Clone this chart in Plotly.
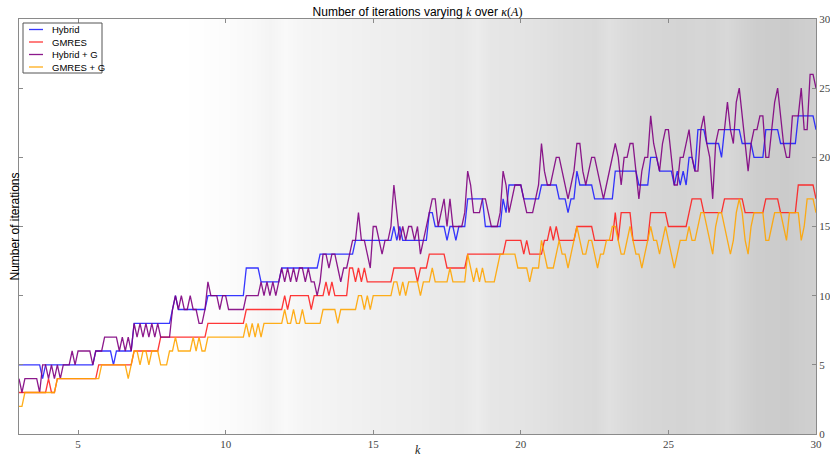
import plotly.graph_objects as go

# ---- data -------------------------------------------------------------
k_values = [round(3 + 0.1 * i, 1) for i in range(271)]

hybrid = [
    5,5,5,5,5,5,5,5,4,5,
    5,5,5,5,5,5,5,5,5,5,
    5,5,5,5,5,5,6,6,6,6,
    6,6,5,6,6,6,6,6,6,8,
    8,8,8,8,8,8,8,8,8,8,
    8,8,9,10,9,9,9,9,9,9,
    9,9,9,9,10,10,10,10,10,10,
    10,10,10,10,10,10,10,12,12,12,
    12,12,11,11,11,11,11,11,11,12,
    12,12,12,12,12,12,12,12,12,12,
    12,12,13,13,13,13,13,13,13,13,
    13,13,13,13,14,14,14,14,14,14,
    14,14,14,14,14,14,14,15,14,15,
    14,14,14,14,14,14,14,14,14,16,
    16,15,15,15,15,14,15,15,14,15,
    15,15,17,17,17,17,17,17,15,15,
    15,15,15,15,17,16,18,18,18,18,
    18,17,17,17,17,17,17,18,18,18,
    18,18,18,17,17,17,16,17,17,19,
    18,18,18,18,18,17,17,17,17,17,
    17,17,19,19,19,19,19,19,19,19,
    18,18,18,18,20,20,20,19,19,19,
    19,19,18,19,18,19,18,20,20,19,
    22,22,22,21,21,21,21,21,20,22,
    22,22,22,22,22,21,21,21,21,20,
    20,20,20,22,22,22,22,22,21,21,
    21,21,21,21,23,23,23,23,23,23,
    22,
]

gmres = [
    3,3,3,3,3,3,3,3,3,3,
    4,3,3,4,4,4,4,4,4,4,
    4,4,4,4,4,4,4,5,5,5,
    5,5,5,5,5,5,5,5,5,6,
    6,6,6,6,6,6,6,6,7,7,
    7,7,7,7,7,7,7,7,7,7,
    7,7,7,7,8,8,8,8,8,8,
    8,8,8,8,8,8,8,9,9,9,
    9,9,9,9,9,9,9,9,9,9,
    10,9,10,10,10,10,10,10,10,9,
    10,10,10,10,11,10,11,10,10,10,
    10,10,12,12,11,12,11,12,11,11,
    11,11,11,11,11,11,11,12,12,12,
    12,12,12,12,12,11,12,12,12,13,
    13,13,13,13,13,12,12,12,12,12,
    12,12,13,13,13,13,13,13,13,13,
    13,13,13,13,13,14,14,14,14,14,
    14,13,14,13,13,13,13,13,14,14,
    15,14,15,14,14,14,14,14,14,15,
    15,15,15,15,15,14,14,14,14,14,
    14,14,16,14,16,16,16,16,14,14,
    14,14,14,14,16,16,16,16,16,16,
    15,15,15,15,15,15,15,16,17,17,
    17,17,16,16,16,16,16,16,16,17,
    17,17,17,17,17,17,16,16,16,16,
    16,16,16,17,17,17,17,17,16,16,
    16,16,16,16,18,18,18,18,18,18,
    17,
]

hybrid_g = [
    4,3,4,4,4,4,4,3,5,5,
    4,5,4,5,4,5,5,5,6,5,
    6,6,6,6,6,5,6,6,6,7,
    7,7,7,7,6,7,6,7,6,8,
    7,8,7,8,7,8,7,8,7,7,
    7,7,9,10,9,10,9,9,10,9,
    9,8,8,9,11,10,10,10,9,10,
    10,9,9,9,9,9,9,10,10,10,
    10,10,11,10,11,10,11,10,11,12,
    11,12,11,12,11,12,12,11,12,11,
    11,10,11,13,13,12,13,13,12,11,
    12,12,13,14,14,16,14,14,13,12,
    15,15,14,13,14,14,15,18,16,14,
    15,14,15,15,14,15,13,14,15,16,
    17,17,15,16,17,15,17,15,15,15,
    15,16,19,18,16,16,16,17,17,16,
    15,15,15,16,19,18,16,17,18,18,
    18,17,16,16,16,17,18,21,19,18,
    18,19,20,20,19,18,17,18,19,21,
    21,19,18,19,20,20,19,18,17,18,
    19,20,21,20,18,20,20,21,21,19,
    17,19,20,20,23,21,20,19,21,22,
    22,20,18,18,20,20,21,22,20,19,
    19,22,23,21,20,17,21,22,22,22,
    24,22,21,24,25,23,21,19,21,22,
    22,23,23,20,20,22,24,25,23,21,
    20,20,23,23,23,25,22,22,26,26,
    25,
]

gmres_g = [
    2,2,3,3,3,3,3,3,3,3,
    3,3,3,4,4,4,4,4,4,4,
    4,4,4,4,4,4,4,4,5,5,
    5,5,5,5,5,5,5,4,5,6,
    6,5,6,6,5,6,6,6,5,5,
    5,6,6,7,6,6,6,6,6,7,
    6,7,6,6,7,7,7,7,7,7,
    7,7,7,7,7,7,7,8,7,8,
    7,8,7,8,8,8,8,8,8,8,
    9,8,8,9,8,8,9,8,8,8,
    8,8,8,9,9,9,9,9,8,9,
    9,9,9,9,9,10,10,9,10,9,
    10,10,10,10,10,10,10,11,11,10,
    11,10,11,11,11,11,10,11,11,11,
    12,11,11,11,11,11,12,11,11,11,
    11,11,13,12,11,12,11,12,11,11,
    11,11,12,13,13,13,13,13,13,12,
    12,12,12,11,12,12,12,14,13,12,
    12,12,13,14,13,13,12,13,14,15,
    14,13,13,14,14,13,12,13,13,14,
    14,15,15,14,13,13,14,15,14,13,
    13,12,13,14,15,14,14,13,14,15,
    14,13,12,13,14,14,14,15,14,14,
    15,16,16,15,14,13,15,16,16,15,
    14,13,14,16,17,16,14,13,15,16,
    16,16,16,14,14,15,16,16,16,15,
    14,16,16,16,16,14,15,17,17,17,
    16,
]

# background shading (grey level 0-255) sampled every 0.5 in k
bg_k = [round(3 + 0.5 * i, 1) for i in range(55)]
bg_grey = [
    255,255,255,255,255,255,255,255,255,255,255,255,
    254,253,252,250,248,244,249,246,244,243,
    242,241,239,238,237,236,234,233,232,236,
    230,229,228,226,224,221,220,218,224,219,
    216,214,213,212,214,213,216,210,205,204,
    203,206,208,
]

series_names = ["Hybrid", "GMRES", "Hybrid + G", "GMRES + G"]
series_colors = ["rgba(20,20,255,0.85)", "rgba(255,20,20,0.85)",
                 "rgba(128,0,128,0.9)", "rgba(255,165,0,0.9)"]
x_ticks = [5, 10, 15, 20, 25, 30]
y_ticks = [0, 5, 10, 15, 20, 25, 30]

# ---- figure -----------------------------------------------------------
fig = go.Figure()

fig.add_trace(go.Heatmap(
    x=bg_k, y=[0, 30], z=[bg_grey, bg_grey],
    zmin=0, zmax=255, zsmooth="best",
    colorscale=[[0, "rgb(0,0,0)"], [1, "rgb(255,255,255)"]],
    showscale=False, hoverinfo="skip",
))

for name, vals, col in zip(series_names, [hybrid, gmres, hybrid_g, gmres_g], series_colors):
    fig.add_trace(go.Scatter(
        x=k_values, y=vals, mode="lines", name=name,
        line=dict(color=col, width=1.3), showlegend=False,
    ))

W, H = 830, 457
PL, PR, PT, PB = 19, 816, 19, 434          # plot area in pixels
L, T, R, B = PL, PT, W - PR, H - PB
pw, ph = PR - PL, PB - PT

def px_x(p):
    return (p - PL) / pw

def px_y(p):
    return (PB - p) / ph

shapes = [dict(type="rect", xref="paper", yref="paper",
               x0=px_x(23), x1=px_x(102), y0=px_y(73), y1=px_y(23),
               line=dict(color="#555555", width=1), fillcolor="white", layer="above")]
annotations = []
entry_y = [29.5, 42, 54.5, 67]
for name, col, ey in zip(series_names, series_colors, entry_y):
    shapes.append(dict(type="line", xref="paper", yref="paper",
                       x0=px_x(29), x1=px_x(43), y0=px_y(ey), y1=px_y(ey),
                       line=dict(color=col, width=1.3), layer="above"))
    annotations.append(dict(xref="paper", yref="paper", x=px_x(50), y=px_y(ey),
                            text=name, showarrow=False, xanchor="left", yanchor="middle",
                            font=dict(family="Liberation Sans", size=9.5, color="black")))

annotations.append(dict(xref="paper", yref="paper", x=0, y=0.5, xshift=-5,
                        text="Number of iterations", textangle=-90, showarrow=False,
                        xanchor="center", yanchor="middle",
                        font=dict(family="Liberation Sans", size=12, color="black")))
annotations.append(dict(xref="paper", yref="paper", x=0.5, y=px_y(450),
                        text="<i>k</i>", showarrow=False, xanchor="center", yanchor="middle",
                        font=dict(family="Liberation Serif", size=12, color="#222")))

fig.update_layout(
    width=W, height=H,
    margin=dict(l=L, r=R, t=T, b=B, autoexpand=False),
    paper_bgcolor="white", plot_bgcolor="white",
    title=dict(text='Number of iterations varying <span style="font-family:Liberation Serif"><i>k</i></span>'
                    ' over <span style="font-family:Liberation Serif"><i>κ</i>(<i>A</i>)</span>',
               x=0.5, xref="paper", xanchor="center",
               y=1 - 12 / H, yref="container", yanchor="middle",
               automargin=False,
               font=dict(family="Liberation Sans", size=12, color="black")),
    xaxis=dict(range=[3, 30], tickvals=x_ticks, ticktext=[str(v) for v in x_ticks],
               automargin=False,
               showgrid=False, zeroline=False, showline=True, linecolor="#8a8a8a", linewidth=1,
               mirror="ticks", ticks="inside", ticklen=4, tickcolor="#8a8a8a",
               tickfont=dict(family="Liberation Serif", size=11, color="#444")),
    yaxis=dict(range=[0, 30], tickvals=y_ticks, side="right",
               automargin=False,
               showgrid=False, zeroline=False, showline=True, linecolor="#8a8a8a", linewidth=1,
               mirror="ticks", ticks="inside", ticklen=4, tickcolor="#8a8a8a",
               tickfont=dict(family="Liberation Serif", size=11, color="#444")),
    shapes=shapes, annotations=annotations,
)

# remove the browser's default 8px page margin so the figure fills the window
fig.write_html("out.html",
               config={"displayModeBar": False},
               post_script="document.body.style.margin='0';document.body.style.overflow='hidden';")
